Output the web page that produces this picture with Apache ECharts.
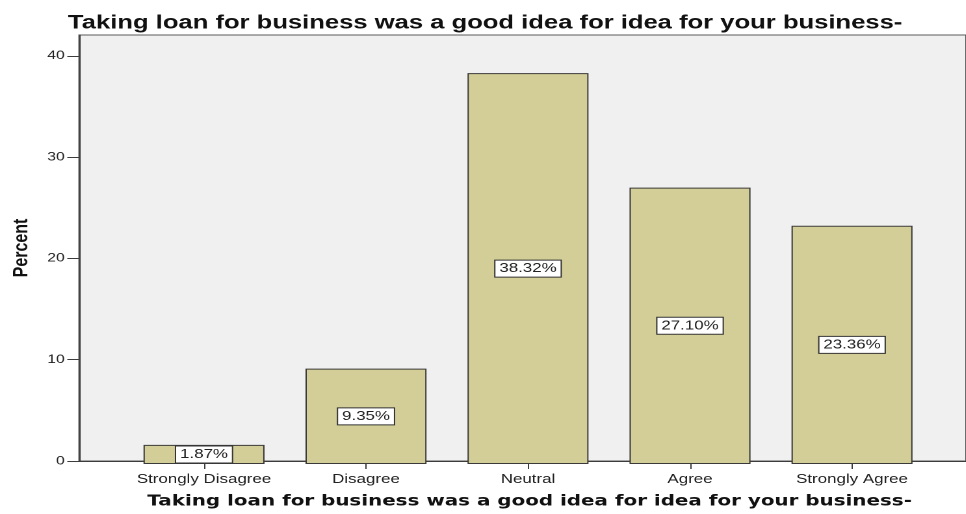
<!DOCTYPE html>
<html>
<head>
<meta charset="utf-8">
<script src="https://cdn.jsdelivr.net/npm/echarts@6/dist/echarts.min.js"></script>
<style>
  html, body { margin: 0; padding: 0; background: #ffffff; overflow: hidden; }
  #chart { height: 514px; transform-origin: 0 0; }
</style>
</head>
<body>
<div id="chart"></div>
<script>
// ---- data ----
const chartTitle = 'Taking loan for business was a good idea for idea for your business-';
const categories = ['Strongly Disagree', 'Disagree', 'Neutral', 'Agree', 'Strongly Agree'];
const percents = [1.87, 9.35, 38.32, 27.10, 23.36];
const yTicks = [0, 10, 20, 30, 40];
const yAxisName = 'Percent';

// ---- layout ----
// The chart is laid out in a narrower frame and widened horizontally,
// giving the broad, stretched lettering of the original export.
const PAGE_W = 966;
const STRETCH = 1.3;
const sx = v => v / STRETCH;

const el = document.getElementById('chart');
el.style.width = sx(PAGE_W) + 'px';
el.style.transform = 'scaleX(' + STRETCH + ')';

const chart = echarts.init(el, null, { renderer: 'canvas', devicePixelRatio: 2 });

const Y_MAX = 42.06;
const PLOT_TOP = 35;
const PLOT_H = 429;
const AXIS_COLOR = '#3c3c3c';
const TEXT_COLOR = '#222222';

chart.setOption({
  backgroundColor: '#ffffff',
  animation: false,
  title: {
    text: chartTitle,
    left: sx(68),
    top: 13,
    padding: 0,
    textStyle: {
      fontFamily: 'Liberation Sans, Arial, sans-serif',
      fontWeight: 'bold',
      fontSize: 19.7,
      color: '#111111'
    }
  },
  grid: [
    // frame: shaded plot area, axis lines
    {
      left: sx(79), top: PLOT_TOP, width: sx(898), height: PLOT_H,
      show: true, backgroundColor: '#f0f0f0',
      borderColor: '#5a5a5a', borderWidth: 1
    },
    // category band for the bars
    {
      left: sx(123), top: PLOT_TOP, width: sx(810), height: PLOT_H
    }
  ],
  xAxis: [
    {
      gridIndex: 0, type: 'value', min: 0, max: 1,
      axisLine: { show: true, lineStyle: { color: AXIS_COLOR, width: 1 } },
      axisTick: { show: false },
      axisLabel: { show: false },
      splitLine: { show: false },
      name: chartTitle,
      nameLocation: 'middle',
      nameGap: 33,
      nameTextStyle: {
        fontFamily: 'DejaVu Sans, Verdana, sans-serif',
        fontWeight: 'bold',
        fontSize: 15.3,
        color: '#111111',
        padding: [0, 0, 0, 11]
      }
    },
    {
      gridIndex: 1, type: 'category', data: categories,
      axisLine: { show: false },
      axisTick: { show: true, alignWithLabel: true, length: 5,
                  lineStyle: { color: AXIS_COLOR, width: 1 } },
      axisLabel: {
        interval: 0, margin: 9,
        fontFamily: 'Liberation Sans, Arial, sans-serif',
        fontSize: 13, color: TEXT_COLOR
      },
      splitLine: { show: false }
    }
  ],
  yAxis: [
    {
      gridIndex: 0, type: 'value', min: 0, max: Y_MAX, interval: 10,
      axisLine: { show: true, lineStyle: { color: AXIS_COLOR, width: 1 } },
      axisTick: { show: true, length: 9, customValues: yTicks,
                  lineStyle: { color: AXIS_COLOR, width: 1 } },
      axisLabel: {
        customValues: yTicks, margin: 11,
        fontFamily: 'Liberation Sans, Arial, sans-serif',
        fontSize: 12, color: TEXT_COLOR
      },
      splitLine: { show: false },
      name: yAxisName,
      nameLocation: 'middle',
      nameRotate: 90,
      nameGap: 36,
      nameTextStyle: {
        fontFamily: 'Liberation Sans, Arial, sans-serif',
        fontWeight: 'bold',
        fontSize: 16,
        color: '#111111'
      }
    },
    {
      gridIndex: 1, type: 'value', min: 0, max: Y_MAX, show: false
    }
  ],
  series: [
    {
      type: 'bar',
      xAxisIndex: 1,
      yAxisIndex: 1,
      data: percents,
      barWidth: sx(121),
      itemStyle: {
        color: '#d3ce97',
        borderColor: '#3a3a3a',
        borderWidth: 1
      },
      label: {
        show: true,
        position: 'inside',
        formatter: p => p.value.toFixed(2) + '%',
        fontFamily: 'Liberation Sans, Arial, sans-serif',
        fontSize: 13,
        color: TEXT_COLOR,
        backgroundColor: '#ffffff',
        borderColor: '#333333',
        borderWidth: 1,
        padding: [2, 3, 1, 3]
      }
    }
  ]
});
</script>
</body>
</html>
